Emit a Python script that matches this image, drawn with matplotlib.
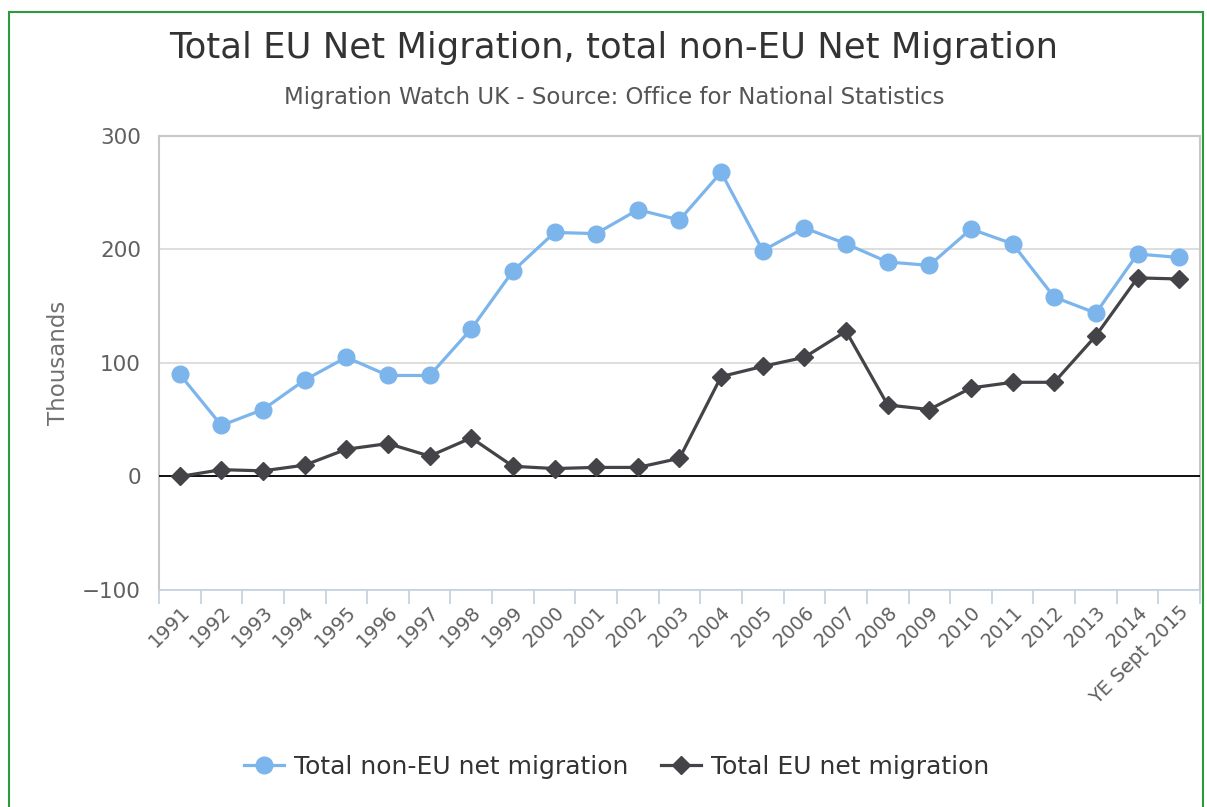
import matplotlib.pyplot as plt
from matplotlib.patches import Rectangle

# Data (thousands)
years = ["1991", "1992", "1993", "1994", "1995", "1996", "1997", "1998", "1999",
         "2000", "2001", "2002", "2003", "2004", "2005", "2006", "2007", "2008",
         "2009", "2010", "2011", "2012", "2013", "2014", "YE Sept 2015"]
non_eu = [90, 45, 59, 85, 105, 89, 89, 130, 181, 215, 214, 235, 226, 268,
          199, 219, 205, 189, 186, 218, 205, 158, 144, 196, 193]
eu = [0, 6, 5, 10, 24, 29, 18, 34, 9, 7, 8, 8, 16, 88,
      97, 105, 128, 63, 59, 78, 83, 83, 124, 175, 174]

fig = plt.figure(figsize=(12.07, 8.07), dpi=100)
ax = fig.add_axes([0.1317, 0.2689, 0.8625, 0.5626])

x = list(range(len(years)))
ax.plot(x, non_eu, color="#7CB5EC", lw=2.3, marker="o", ms=12,
        label="Total non-EU net migration", zorder=4)
ax.plot(x, eu, color="#434348", lw=2.3, marker="D", ms=9,
        label="Total EU net migration", zorder=4)

ax.set_xlim(-0.5, len(years) - 0.5)
ax.set_ylim(-100, 300)
ax.set_yticks([-100, 0, 100, 200, 300])
ax.set_yticklabels(["\u2212100", "0", "100", "200", "300"])
ax.axhline(0, color="black", lw=1.3, zorder=3)
ax.grid(axis="y", color="#D8D8D8", lw=1.2)
ax.set_axisbelow(True)

# category ticks at boundaries, labels at centres
ax.set_xticks([i - 0.5 for i in range(len(years) + 1)], minor=False)
ax.set_xticklabels([])
ax.set_xticks(x, minor=True)
ax.set_xticklabels(years, minor=True, rotation=45, ha="right",
                   rotation_mode="anchor", fontsize=14, color="#606060")
ax.tick_params(axis="x", which="major", length=10, color="#C0D0E0", width=1.2)
ax.tick_params(axis="x", which="minor", length=0, pad=9)
ax.tick_params(axis="y", length=0, labelsize=15.5, labelcolor="#606060", pad=13)

for side in ["left", "top", "right"]:
    ax.spines[side].set_color("#C8C8C8")
    ax.spines[side].set_linewidth(1.5)
ax.spines["bottom"].set_color("#C0D0E0")
ax.spines["bottom"].set_linewidth(1.2)

ax.set_ylabel("Thousands", fontsize=16.5, color="#707070", labelpad=9)

fig.text(0.5085, 0.941, "Total EU Net Migration, total non-EU Net Migration",
         ha="center", va="center", fontsize=25.5, color="#333333")
fig.text(0.5085, 0.879, "Migration Watch UK - Source: Office for National Statistics",
         ha="center", va="center", fontsize=16.5, color="#555555")

leg = fig.legend(loc="center", bbox_to_anchor=(0.511, 0.05), ncol=2, frameon=False,
                 fontsize=18, handlelength=1.6, columnspacing=1.3,
                 handletextpad=0.4)
for t in leg.get_texts():
    t.set_color("#333333")

# green frame around the chart
fig.patches.append(Rectangle((9 / 1207, -0.01), 1194 / 1207, 1 - 12 / 807 + 0.01,
                             transform=fig.transFigure, fill=False,
                             edgecolor="#2E9A3A", lw=1.5))

fig.savefig("out.png", dpi=100)
